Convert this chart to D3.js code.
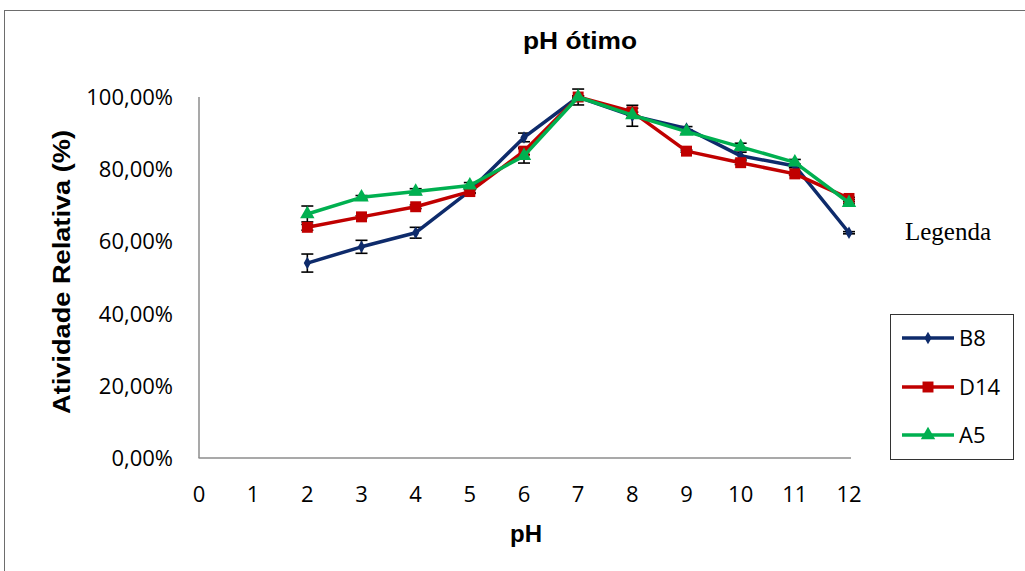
<!DOCTYPE html>
<html><head><meta charset="utf-8">
<script src="https://cdn.jsdelivr.net/npm/d3@7/dist/d3.min.js"></script>
<style>html,body{margin:0;padding:0;background:#fff;}svg{display:block;}</style>
</head><body>
<script>
const phValues = [2,3,4,5,6,7,8,9,10,11,12];
const xTicks = [0,1,2,3,4,5,6,7,8,9,10,11,12];
const yTicks = [0,20,40,60,80,100];
const seriesNames = ["B8","D14","A5"];
const seriesColors = ["#0E2B6B","#C00000","#00B050"];
const b8 = [54.0,58.5,62.4,74.0,88.8,100,94.8,91.3,83.7,80.9,62.4];
const d14 = [63.9,66.8,69.6,73.8,85.0,100,95.9,85.0,81.8,78.7,71.9];
const a5 = [67.6,72.2,73.8,75.5,83.7,100,95.0,90.4,86.2,81.9,70.7];
const b8Err = [2.5,1.8,1.5,0.5,1.2,2.2,2.9,0.5,1.0,0.5,0.3];
const d14Err = [0.8,0.3,0.5,0.5,1.0,0.3,1.0,0.3,0.5,0.3,0.3];
const a5Err = [2.2,0.5,0.8,0.8,2.0,0.3,0.8,0.5,1.0,0.8,0.3];

const W = 1025, H = 571;
const svg = d3.select("body").append("svg").attr("width", W).attr("height", H);
svg.append("rect").attr("x",4.5).attr("y",10.5).attr("width",1040).attr("height",600)
  .attr("fill","none").attr("stroke","#6d6d6d").attr("stroke-width",1);

const x = d3.scaleLinear().domain([0,12]).range([199,849]);
const y = d3.scaleLinear().domain([0,100]).range([458,97]);

svg.append("line").attr("x1",x(0)-0.5).attr("x2",851).attr("y1",y(0)).attr("y2",y(0))
  .attr("stroke","#8c8c8c").attr("stroke-width",1.5);
svg.append("line").attr("x1",x(0)).attr("x2",x(0)).attr("y1",y(0)).attr("y2",y(100))
  .attr("stroke","#8c8c8c").attr("stroke-width",1.5);

const tickFont = "'Open Sans', sans-serif";
const fmt = v => d3.format(".2f")(v).replace(".", ",") + "%";
svg.append("g").selectAll("text").data(yTicks).join("text")
  .attr("x",173).attr("y",d=>y(d)).attr("dy","0.36em").attr("text-anchor","end")
  .attr("font-family",tickFont).attr("font-size",22).attr("fill","#000").text(fmt);
svg.append("g").selectAll("text").data(xTicks).join("text")
  .attr("x",d=>x(d)).attr("y",494).attr("dy","0.36em").attr("text-anchor","middle")
  .attr("font-family",tickFont).attr("font-size",22).attr("fill","#000").text(d=>d);

svg.append("text").attr("x",580).attr("y",49).attr("text-anchor","middle")
  .attr("font-family","'Liberation Sans', Arial, sans-serif").attr("font-weight","bold")
  .attr("font-size",24).attr("textLength",114).attr("lengthAdjust","spacingAndGlyphs").text("pH ótimo");
svg.append("text").attr("x",526).attr("y",542).attr("text-anchor","middle")
  .attr("font-family","'Liberation Sans', Arial, sans-serif").attr("font-weight","bold")
  .attr("font-size",24).text("pH");
svg.append("text").attr("transform","translate(70,272) rotate(-90)").attr("text-anchor","middle")
  .attr("font-family","'Liberation Sans', Arial, sans-serif").attr("font-weight","bold")
  .attr("font-size",24).attr("textLength",284).attr("lengthAdjust","spacingAndGlyphs").text("Atividade Relativa (%)");

const data = [b8,d14,a5];
const errs = [b8Err,d14Err,a5Err];

errs.forEach((e,si)=>{
  const g = svg.append("g").attr("stroke","#000").attr("stroke-width",1.6);
  phValues.forEach((p,i)=>{
    const v = data[si][i], lo = y(v-e[i]), hi = y(v+e[i]), cx = x(p);
    g.append("line").attr("x1",cx).attr("x2",cx).attr("y1",lo).attr("y2",hi);
    g.append("line").attr("x1",cx-6).attr("x2",cx+6).attr("y1",lo).attr("y2",lo);
    g.append("line").attr("x1",cx-6).attr("x2",cx+6).attr("y1",hi).attr("y2",hi);
  });
});

const line = d3.line().x((d,i)=>x(phValues[i])).y(d=>y(d));
const symbols = [d3.symbolDiamond, d3.symbolSquare, d3.symbolTriangle];
const symSizes = [45, 120, 90];
data.forEach((vals,si)=>{
  svg.append("path").datum(vals).attr("d",line).attr("fill","none")
    .attr("stroke",seriesColors[si]).attr("stroke-width",3.5).attr("stroke-linejoin","round");
  svg.append("g").selectAll("path").data(vals).join("path")
    .attr("transform",(d,i)=>`translate(${x(phValues[i])},${y(d)})`)
    .attr("d",d3.symbol().type(symbols[si]).size(symSizes[si]))
    .attr("fill",seriesColors[si]);
});

svg.append("text").attr("x",948).attr("y",240).attr("text-anchor","middle")
  .attr("font-family","'Liberation Serif', 'Times New Roman', serif").attr("font-size",25)
  .text("Legenda");

svg.append("rect").attr("x",890.5).attr("y",314.5).attr("width",123).attr("height",145)
  .attr("fill","#fff").attr("stroke","#333").attr("stroke-width",1);
const legY = [338,387,435];
seriesNames.forEach((n,si)=>{
  svg.append("line").attr("x1",902).attr("x2",954).attr("y1",legY[si]).attr("y2",legY[si])
    .attr("stroke",seriesColors[si]).attr("stroke-width",3.5);
  svg.append("path").attr("transform",`translate(928,${legY[si]})`)
    .attr("d",d3.symbol().type(symbols[si]).size(symSizes[si])).attr("fill",seriesColors[si]);
  svg.append("text").attr("x",959).attr("y",legY[si]).attr("dy","0.36em")
    .attr("font-family",tickFont).attr("font-size",22).text(n);
});
</script>
</body></html>
